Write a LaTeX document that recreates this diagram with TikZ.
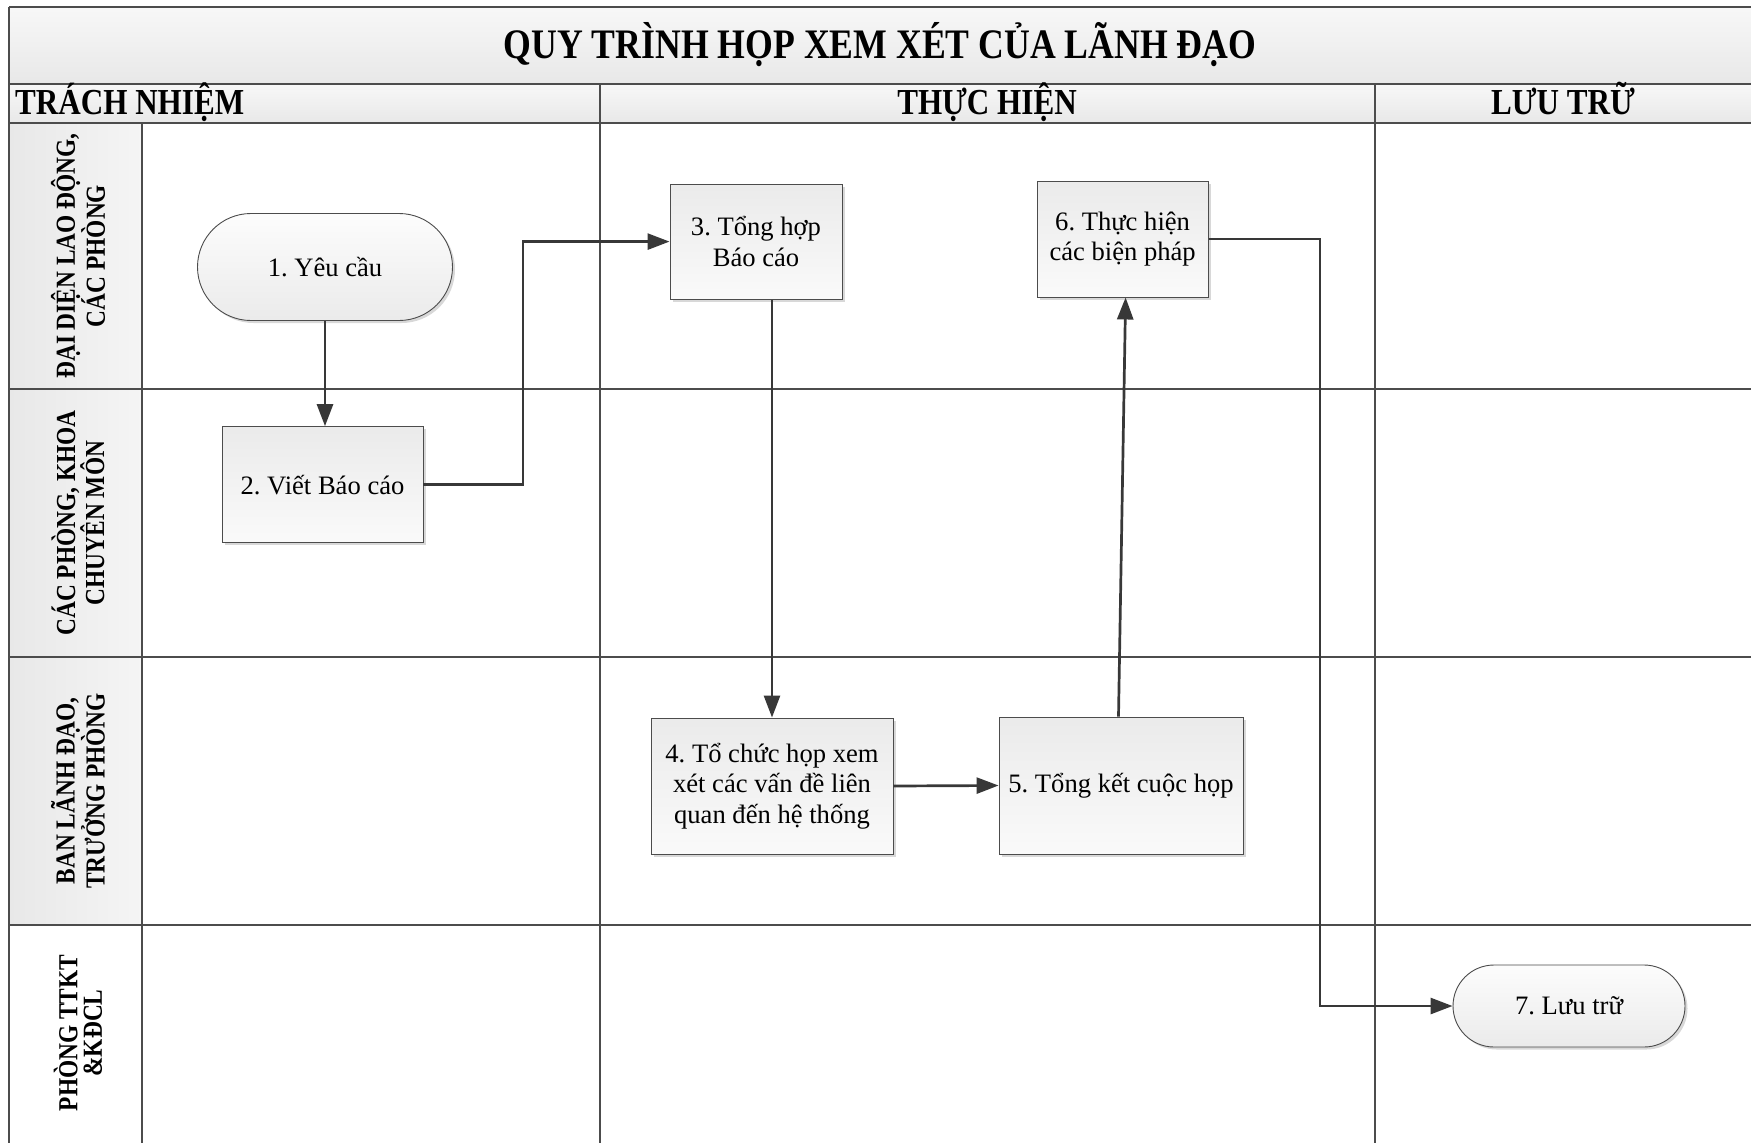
\documentclass[tikz,border=0pt]{standalone}
\usepackage{fontspec}
\setmainfont{Liberation Serif}
\newfontfamily\hdfont[FakeStretch=0.85]{Liberation Serif}
\usetikzlibrary{shapes.misc,arrows.meta,shadows,calc}
\frenchspacing

\tikzset{
  gridline/.style={draw=black!70, line width=1.6pt},
  bandfill/.style={top color=black!3, bottom color=black!9, draw=none},
  lanefill/.style={left color=black!9, right color=black!4, draw=none},
  procbox/.style={rectangle, draw=black!70, line width=0.9pt,
    top color=black!8, bottom color=black!2,
    drop shadow={shadow xshift=2.5pt, shadow yshift=-2.5pt, opacity=0.3, fill=black!50},
    font=\fontsize{26.6}{30.5}\selectfont, align=center, inner sep=0pt},
  termbox/.style={rounded rectangle, draw=black!70, line width=0.9pt,
    top color=black!1, bottom color=black!8,
    drop shadow={shadow xshift=2.5pt, shadow yshift=-2.5pt, opacity=0.3, fill=black!50},
    font=\fontsize{26.6}{30.5}\selectfont, align=center, inner sep=0pt},
  conn/.style={draw=black!78, line width=2.7pt, -{Triangle[length=22pt,width=16pt]}},
  lanelbl/.style={rotate=90, font=\hdfont\bfseries\fontsize{27.5}{24.5}\selectfont, align=center, inner sep=0pt},
  headtxt/.style={font=\hdfont\bfseries\fontsize{36.6}{37}\selectfont, inner sep=0pt}
}

\begin{document}
\begin{tikzpicture}[x=1pt,y=-1pt]
\useasboundingbox (0,0) rectangle (1751,1143);
\clip (0,0) rectangle (1751,1143);
\fill[white] (0,0) rectangle (1751,1143);

% bands
\path[bandfill] (9,7) rectangle (1760,84);
\path[bandfill] (9,84) rectangle (1760,123);
\path[lanefill] (9,123) rectangle (142,389);
\path[lanefill] (9,389) rectangle (142,657);
\path[lanefill] (9,657) rectangle (142,925);

% grid
\draw[gridline] (9,7) -- (1760,7);
\draw[gridline] (9,84) -- (1760,84);
\draw[gridline] (9,123) -- (1760,123);
\draw[gridline] (9,389) -- (1760,389);
\draw[gridline] (9,657) -- (1760,657);
\draw[gridline] (9,925) -- (1760,925);
\draw[gridline] (9,7) -- (9,1160);
\draw[gridline] (142,123) -- (142,1160);
\draw[gridline] (600,84) -- (600,1160);
\draw[gridline] (1375,84) -- (1375,1160);

% texts
\node[font=\hdfont\bfseries\fontsize{42}{42}\selectfont, anchor=base, inner sep=0pt] (title) at (880,58) {QUY TRÌNH HỌP XEM XÉT CỦA LÃNH ĐẠO};
\node[headtxt, anchor=base west] (hd1) at (15,114) {TRÁCH NHIỆM};
\node[headtxt, anchor=base] (hd2) at (987,114) {THỰC HIỆN};
\node[headtxt, anchor=base] (hd3) at (1563,114) {LƯU TRỮ};

\node[lanelbl] (l1) at (78,256) {ĐẠI DIỆN LAO ĐỘNG,\\CÁC PHÒNG};
\node[lanelbl] (l2) at (78,523) {CÁC PHÒNG, KHOA\\CHUYÊN MÔN};
\node[lanelbl] (l3) at (78,791) {BAN LÃNH ĐẠO,\\TRƯỞNG PHÒNG};
\node[lanelbl] (l4) at (78,1033) {PHÒNG TTKT\\\&KĐCL};

% nodes
\node[termbox, minimum width=255pt, minimum height=107pt] (n1) at (325,267) {1. Yêu cầu};
\node[procbox, minimum width=201pt, minimum height=116pt] (n2) at (322.5,484.6) {2. Viết Báo cáo};
\node[procbox, minimum width=172pt, minimum height=115pt] (n3) at (756,241.6) {3. Tổng hợp\\Báo cáo};
\node[procbox, minimum width=171pt, minimum height=116pt] (n6) at (1122.6,239) {6. Thực hiện\\các biện pháp};
\node[procbox, minimum width=242pt, minimum height=136pt] (n4) at (772,786) {4. Tổ chức họp xem\\xét các vấn đề liên\\quan đến hệ thống};
\node[procbox, minimum width=244pt, minimum height=137pt] (n5) at (1121,785.5) {5. Tổng kết cuộc họp};
\node[termbox, minimum width=232pt, minimum height=82pt] (n7) at (1569,1006) {7. Lưu trữ};

\coordinate (b23) at (523,0);
\coordinate (b67) at (1320,0);

% connectors
\draw[conn] (n1.south) -- (n1.south |- n2.north);
\draw[conn] (n2.east) -| (b23 |- n3.west) -- (n3.west);
\draw[conn] (n4.north |- n3.south) -- (n4.north);
\draw[conn] (n4.east) -- (n5.west);
\draw[conn] ($(n5.north)+(-2.5,0)$) -- ($(n6.south)+(3,0)$);
\draw[conn] (n6.east) -| (b67 |- n7.west) -- (n7.west);
\end{tikzpicture}
\end{document}
